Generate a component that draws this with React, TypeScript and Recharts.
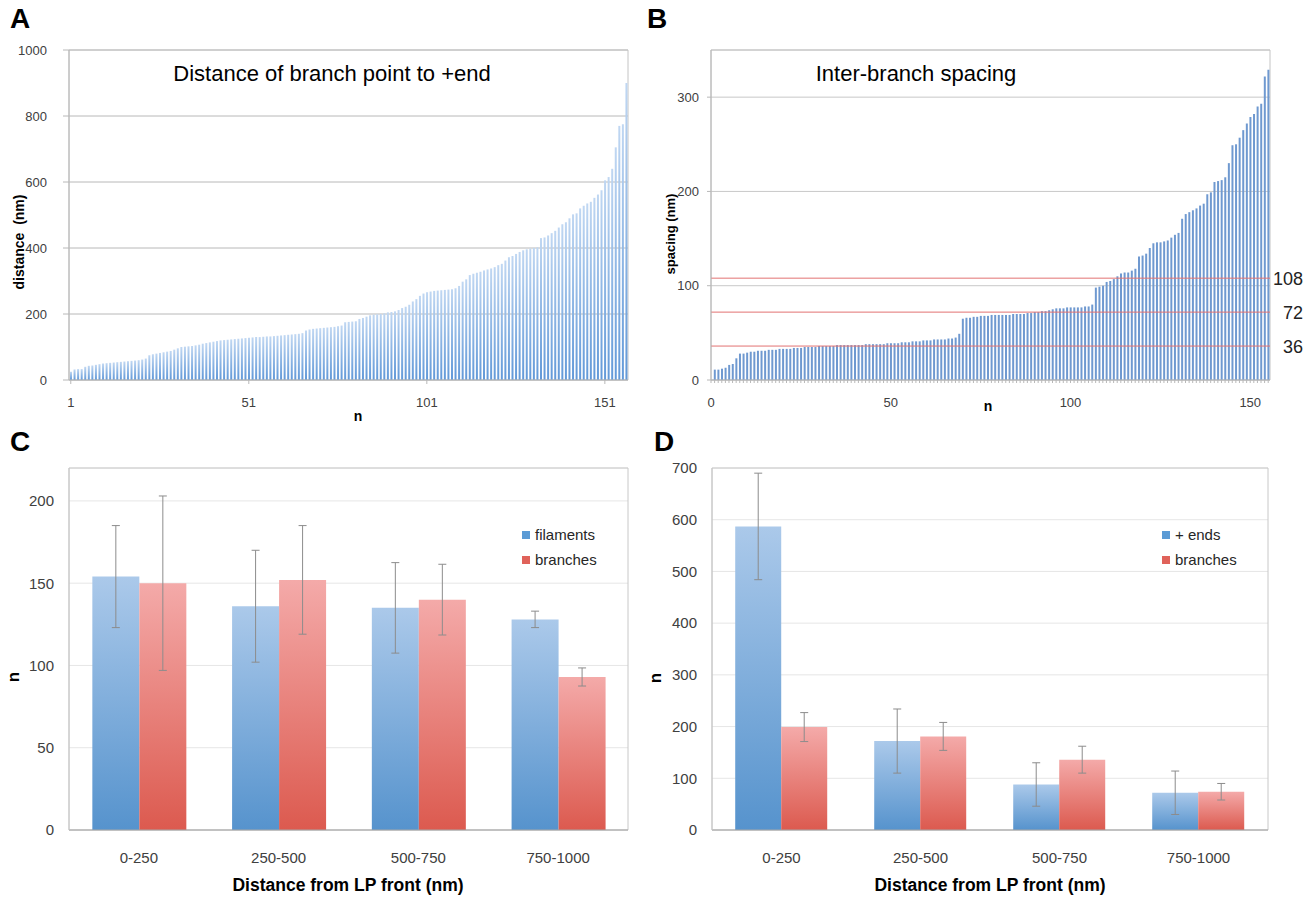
import React from 'react';
import {
  BarChart,
  Bar,
  XAxis,
  YAxis,
  CartesianGrid,
  ReferenceLine,
  ReferenceArea,
  ErrorBar,
  Legend,
} from 'recharts';

// A: distance of each branch point to the +end, sorted (nm)
const branchToEndNm = [
  25, 32, 33, 33, 40, 43, 44, 46, 48, 50, 51, 52, 53, 54, 55, 56, 57, 58, 59, 60,
  62, 65, 75, 78, 80, 82, 84, 86, 88, 92, 96, 100, 101, 102, 103, 105, 107, 110, 112, 114,
  116, 118, 120, 121, 122, 123, 124, 125, 126, 127, 128, 129, 130, 130, 131, 132, 132, 133, 134, 135,
  136, 137, 138, 139, 140, 142, 150, 153, 155, 156, 157, 158, 159, 160, 161, 163, 165, 175, 176, 177,
  178, 185, 188, 192, 196, 198, 199, 200, 202, 205, 206, 208, 212, 218, 222, 228, 238, 245, 255, 262,
  266, 268, 270, 271, 272, 273, 274, 275, 278, 285, 298, 305, 318, 322, 325, 328, 332, 335, 338, 342,
  348, 352, 362, 372, 376, 382, 388, 393, 396, 398, 400, 402, 430, 432, 438, 445, 452, 462, 472, 478,
  490, 502, 505, 520, 528, 535, 540, 552, 562, 575, 605, 615, 640, 705, 770, 775, 900,
];

// B: inter-branch spacing, sorted (nm)
const interBranchNm = [
  11, 11, 12, 13, 16, 17, 23, 28, 28, 29, 30, 30, 31, 31, 31, 32, 32, 32, 33, 33,
  33, 33, 34, 34, 34, 35, 35, 35, 35, 36, 36, 36, 36, 36, 37, 37, 37, 37, 37, 37,
  37, 37, 38, 38, 38, 38, 38, 38, 39, 39, 39, 39, 40, 40, 40, 41, 41, 41, 42, 42,
  42, 43, 43, 43, 43, 44, 44, 45, 49, 65, 66, 66, 67, 67, 68, 68, 68, 69, 69, 69,
  69, 69, 69, 70, 70, 70, 70, 71, 71, 72, 72, 73, 73, 74, 75, 76, 76, 76, 77, 77,
  77, 77, 77, 78, 78, 80, 98, 99, 100, 104, 105, 107, 110, 113, 114, 114, 116, 118, 131, 132,
  134, 140, 145, 146, 146, 147, 148, 151, 154, 156, 171, 176, 178, 180, 182, 185, 187, 197, 199, 210,
  211, 212, 215, 230, 249, 250, 257, 265, 272, 279, 282, 290, 293, 322, 329,
];
const spacingMarks = [36, 72, 108];
const minorTicksYB = [36, 72, 108, 144, 180, 216, 252, 288, 324];

// C / D: counts per distance bin from the LP front
const distanceBins = ['0-250', '250-500', '500-750', '750-1000'];
const filamentsN = [154, 136, 135, 128];
const filamentsSd = [31, 34, 27.5, 5];
const branchesCN = [150, 152, 140, 93];
const branchesCSd = [53, 33, 21.5, 5.5];
const plusEndsN = [587, 172, 88, 72];
const plusEndsSd = [103, 62, 42, 42];
const branchesDN = [199, 181, 136, 74];
const branchesDSd = [28, 27, 26, 16];

const xTicksA = [1, 51, 101, 151];
const yTicksA = [0, 200, 400, 600, 800, 1000];
const xLabelsB = [0, 50, 100, 150];
const yTicksB = [0, 100, 200, 300];
const yTicksC = [0, 50, 100, 150, 200];
const yTicksD = [0, 100, 200, 300, 400, 500, 600, 700];

const dataA = branchToEndNm.map((v, i) => ({ n: i + 1, distance: v }));
const dataB = interBranchNm.map((v, i) => ({ n: i + 1, spacing: v }));
const minorTicksB = [0, ...dataB.map((d) => d.n)];
const dataC = distanceBins.map((bin, i) => ({
  bin,
  filaments: filamentsN[i],
  filamentsSd: filamentsSd[i],
  branches: branchesCN[i],
  branchesSd: branchesCSd[i],
}));
const dataD = distanceBins.map((bin, i) => ({
  bin,
  ends: plusEndsN[i],
  endsSd: plusEndsSd[i],
  branches: branchesDN[i],
  branchesSd: branchesDSd[i],
}));

const SANS = "'Liberation Sans', Arial, sans-serif";
const BLUE = '#5b9bd5';
const RED = '#e0625a';
const ERR = '#8c8c8c';

const legendC = [
  { name: 'filaments', color: BLUE },
  { name: 'branches', color: RED },
];
const legendD = [
  { name: '+ ends', color: BLUE },
  { name: 'branches', color: RED },
];

const Txt = ({ x, y, size, bold, rotate, children }: any) => (
  <div
    style={{
      position: 'absolute',
      left: x,
      top: y,
      transform: `translate(-50%, -50%)${rotate ? ' rotate(-90deg)' : ''}`,
      fontFamily: SANS,
      fontSize: size,
      fontWeight: bold ? 700 : 400,
      lineHeight: 1,
      whiteSpace: 'pre',
      color: '#000',
    }}
  >
    {children}
  </div>
);

const SquareLegend = ({ items }: any) => (
  <div style={{ fontFamily: SANS, fontSize: 15, color: '#262626' }}>
    {items.map((e: any) => (
      <div key={e.name} style={{ display: 'flex', alignItems: 'center', height: 25 }}>
        <span
          style={{
            display: 'inline-block',
            width: 8,
            height: 8,
            marginRight: 5,
            background: e.color,
          }}
        />
        {e.name}
      </div>
    ))}
  </div>
);

const GradDefs = ({ prefix }: { prefix: string }) => (
  <defs>
    <linearGradient id={`${prefix}Blue`} x1="0" y1="0" x2="0" y2="1">
      <stop offset="0%" stopColor="#abc9ea" />
      <stop offset="100%" stopColor="#5693cd" />
    </linearGradient>
    <linearGradient id={`${prefix}Red`} x1="0" y1="0" x2="0" y2="1">
      <stop offset="0%" stopColor="#f4aaa9" />
      <stop offset="100%" stopColor="#dc5a4f" />
    </linearGradient>
  </defs>
);

const tickAB = { fontSize: 13, fill: '#404040', fontFamily: SANS };
const tickCD = { fontSize: 15, fill: '#404040', fontFamily: SANS };

const RightMark = ({ viewBox, value }: any) => (
  <text
    x={viewBox.x + viewBox.width + 33}
    y={viewBox.y}
    dy="0.36em"
    textAnchor="end"
    fontSize={18}
    fontFamily={SANS}
    fill="#222"
  >
    {value}
  </text>
);

export default function App() {
  return (
    <div style={{ position: 'absolute', left: 0, top: 0, width: 1315, height: 898, background: '#fff' }}>
      {/* Panel A */}
      <div style={{ position: 'absolute', left: 0, top: 0 }}>
        <BarChart width={650} height={430} data={dataA} margin={{ top: 50, right: 22, bottom: 20, left: 9 }}>
          <defs>
            <linearGradient id="aFill" x1="0" y1="0" x2="0" y2="1">
              <stop offset="0%" stopColor="#c0d7f2" />
              <stop offset="100%" stopColor="#6299d8" />
            </linearGradient>
          </defs>
          <CartesianGrid vertical={false} stroke="#b8b8b8" />
          <ReferenceArea y1={0} y2={1000} fill="none" stroke="#c4c4c4" />
          <XAxis
            type="number"
            dataKey="n"
            domain={[0.5, 157.5]}
            ticks={xTicksA}
            tick={tickAB}
            tickSize={4}
            tickMargin={14}
            height={30}
            stroke="#b8b8b8"
          />
          <YAxis
            domain={[0, 1000]}
            ticks={yTicksA}
            tick={tickAB}
            tickSize={6}
            tickMargin={16}
            width={60}
            stroke="#b8b8b8"
          />
          <Bar dataKey="distance" fill="url(#aFill)" barSize={2} isAnimationActive={false} />
        </BarChart>
      </div>

      {/* Panel B */}
      <div style={{ position: 'absolute', left: 650, top: 0 }}>
        <BarChart width={665} height={430} data={dataB} margin={{ top: 50, right: 45, bottom: 20, left: 21 }}>
          <CartesianGrid vertical={false} stroke="#c8c8c8" />
          <ReferenceArea y1={0} y2={350} fill="none" stroke="#c4c4c4" />
          <XAxis
            type="number"
            dataKey="n"
            domain={[0, 155.5]}
            ticks={minorTicksB}
            interval={0}
            tickFormatter={(v: number) => (xLabelsB.includes(v) ? String(v) : '')}
            tick={tickAB}
            tickSize={3}
            tickMargin={15}
            height={30}
            stroke="#b8b8b8"
          />
          <YAxis
            domain={[0, 350]}
            ticks={yTicksB}
            tick={tickAB}
            tickSize={4}
            tickMargin={8}
            width={40}
            stroke="#b8b8b8"
          />
          <YAxis
            yAxisId="minor"
            domain={[0, 350]}
            ticks={minorTicksYB}
            interval={0}
            tickFormatter={() => ''}
            tickSize={3}
            axisLine={false}
            width={0}
            stroke="#b8b8b8"
          />
          <Bar dataKey="spacing" fill="#6f99d0" barSize={2} isAnimationActive={false} />
          {spacingMarks.map((m) => (
            <ReferenceLine
              key={m}
              y={m}
              stroke="#e27272"
              strokeWidth={1}
              label={<RightMark value={m} />}
            />
          ))}
        </BarChart>
      </div>

      {/* Panel C */}
      <div style={{ position: 'absolute', left: 0, top: 430 }}>
        <BarChart
          width={650}
          height={468}
          data={dataC}
          margin={{ top: 38, right: 22, bottom: 28, left: 19 }}
          barGap={0}
          barCategoryGap="16.7%"
        >
          <GradDefs prefix="c" />
          <CartesianGrid vertical={false} stroke="#e6e6e6" />
          <ReferenceArea y1={0} y2={220} fill="none" stroke="#c8c8c8" />
          <XAxis
            dataKey="bin"
            tick={tickCD}
            tickLine={false}
            tickSize={0}
            tickMargin={22}
            height={40}
            stroke="#a6a6a6"
          />
          <YAxis
            domain={[0, 220]}
            ticks={yTicksC}
            tick={tickCD}
            tickLine={false}
            tickSize={0}
            tickMargin={15}
            width={50}
            stroke="#c8c8c8"
          />
          <Legend
            layout="vertical"
            align="center"
            verticalAlign="middle"
            wrapperStyle={{ left: 522, top: 92, width: 110 }}
            content={() => <SquareLegend items={legendC} />}
          />
          <Bar dataKey="filaments" name="filaments" fill="url(#cBlue)" isAnimationActive={false}>
            <ErrorBar dataKey="filamentsSd" width={4} stroke={ERR} strokeWidth={1} />
          </Bar>
          <Bar dataKey="branches" name="branches" fill="url(#cRed)" isAnimationActive={false}>
            <ErrorBar dataKey="branchesSd" width={4} stroke={ERR} strokeWidth={1} />
          </Bar>
        </BarChart>
      </div>

      {/* Panel D */}
      <div style={{ position: 'absolute', left: 650, top: 430 }}>
        <BarChart
          width={665}
          height={468}
          data={dataD}
          margin={{ top: 38, right: 47, bottom: 28, left: 12 }}
          barGap={0}
          barCategoryGap="16.7%"
        >
          <GradDefs prefix="d" />
          <CartesianGrid vertical={false} stroke="#e6e6e6" />
          <ReferenceArea y1={0} y2={700} fill="none" stroke="#c8c8c8" />
          <XAxis
            dataKey="bin"
            tick={tickCD}
            tickLine={false}
            tickSize={0}
            tickMargin={22}
            height={40}
            stroke="#a6a6a6"
          />
          <YAxis
            domain={[0, 700]}
            ticks={yTicksD}
            tick={tickCD}
            tickLine={false}
            tickSize={0}
            tickMargin={15}
            width={50}
            stroke="#c8c8c8"
          />
          <Legend
            layout="vertical"
            align="center"
            verticalAlign="middle"
            wrapperStyle={{ left: 512, top: 92, width: 110 }}
            content={() => <SquareLegend items={legendD} />}
          />
          <Bar dataKey="ends" name="+ ends" fill="url(#dBlue)" isAnimationActive={false}>
            <ErrorBar dataKey="endsSd" width={4} stroke={ERR} strokeWidth={1} />
          </Bar>
          <Bar dataKey="branches" name="branches" fill="url(#dRed)" isAnimationActive={false}>
            <ErrorBar dataKey="branchesSd" width={4} stroke={ERR} strokeWidth={1} />
          </Bar>
        </BarChart>
      </div>

      {/* panel letters, titles and axis titles */}
      <Txt x={20} y={19} size={28} bold>A</Txt>
      <Txt x={657} y={19} size={28} bold>B</Txt>
      <Txt x={20} y={442} size={28} bold>C</Txt>
      <Txt x={664} y={442} size={28} bold>D</Txt>
      <Txt x={332} y={74} size={22}>Distance of branch point to +end</Txt>
      <Txt x={916} y={74} size={22}>Inter-branch spacing</Txt>
      <Txt x={19} y={242} size={14} bold rotate>{'distance  (nm)'}</Txt>
      <Txt x={670} y={234} size={13} bold rotate>spacing (nm)</Txt>
      <Txt x={358} y={416} size={14} bold>n</Txt>
      <Txt x={988} y={406} size={14} bold>n</Txt>
      <Txt x={13} y={677} size={17} bold rotate>n</Txt>
      <Txt x={655} y={678} size={17} bold rotate>n</Txt>
      <Txt x={348} y={886} size={17.5} bold>Distance from LP front (nm)</Txt>
      <Txt x={990} y={886} size={17.5} bold>Distance from LP front (nm)</Txt>
    </div>
  );
}
